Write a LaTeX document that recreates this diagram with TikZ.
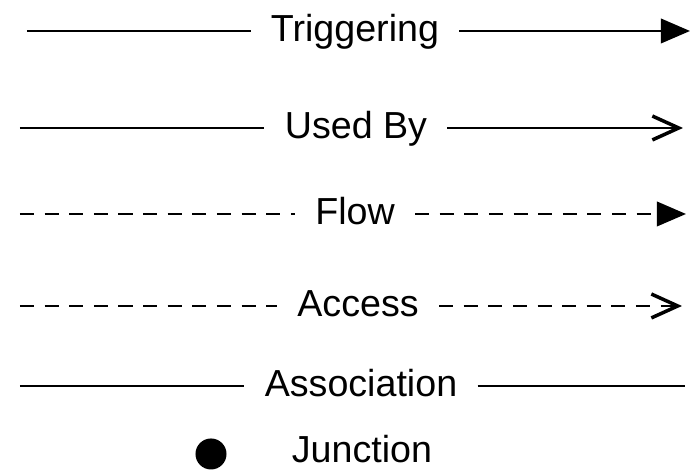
\documentclass[tikz,border=0pt]{standalone}
\usepackage{fontspec}
\setmainfont{Liberation Sans}
\usetikzlibrary{arrows.meta}

\begin{document}
\begin{tikzpicture}[x=0.01cm,y=-0.01cm,line width=0.6pt,
  lbl/.style={fill=white,inner xsep=5.5pt,inner ysep=0pt,text height=1.55ex,text depth=0.45ex,
    font=\fontsize{10.7}{13}\selectfont},
  dsh/.style={dash pattern=on 4pt off 3pt},
  fulltip/.style={-{Triangle[length=8.3pt,width=7pt]}},
  opentip/.style={-{Straight Barb[length=7.5pt,width=6.8pt,line width=1pt]}}]

\useasboundingbox (0,0) rectangle (693,471);

\coordinate (trigL) at (27,31);
\node[lbl] (trig) at (355,31) {Triggering};
\coordinate (trigR) at (690,31);

\coordinate (usedL) at (20,128);
\node[lbl] (used) at (356,128) {Used By};
\coordinate (usedR) at (683,128);

\coordinate (flowL) at (20,214);
\node[lbl] (flow) at (355,214) {Flow};
\coordinate (flowR) at (686,214);

\coordinate (accL) at (20,306);
\node[lbl] (acc) at (358,306) {Access};
\coordinate (accR) at (682,306);

\coordinate (assL) at (20,386);
\node[lbl] (ass) at (361,386) {Association};
\coordinate (assR) at (685,386);

\node[circle,fill=black,inner sep=0pt,minimum size=0.31cm] (dot) at (211,454) {};
\node[lbl] (junc) at (362,452) {Junction};


\draw (trigL) -- (trig);
\draw[fulltip] (trig) -- (trigR);
\draw (usedL) -- (used);
\draw[opentip] (used) -- (usedR);
\draw[dsh] (flowL) -- (flow);
\draw[dsh,fulltip] (flow) -- (flowR);
\draw[dsh] (accL) -- (acc);
\draw[dsh,opentip] (acc) -- (accR);
\draw (assL) -- (ass);
\draw (ass) -- (assR);


\end{tikzpicture}
\end{document}
